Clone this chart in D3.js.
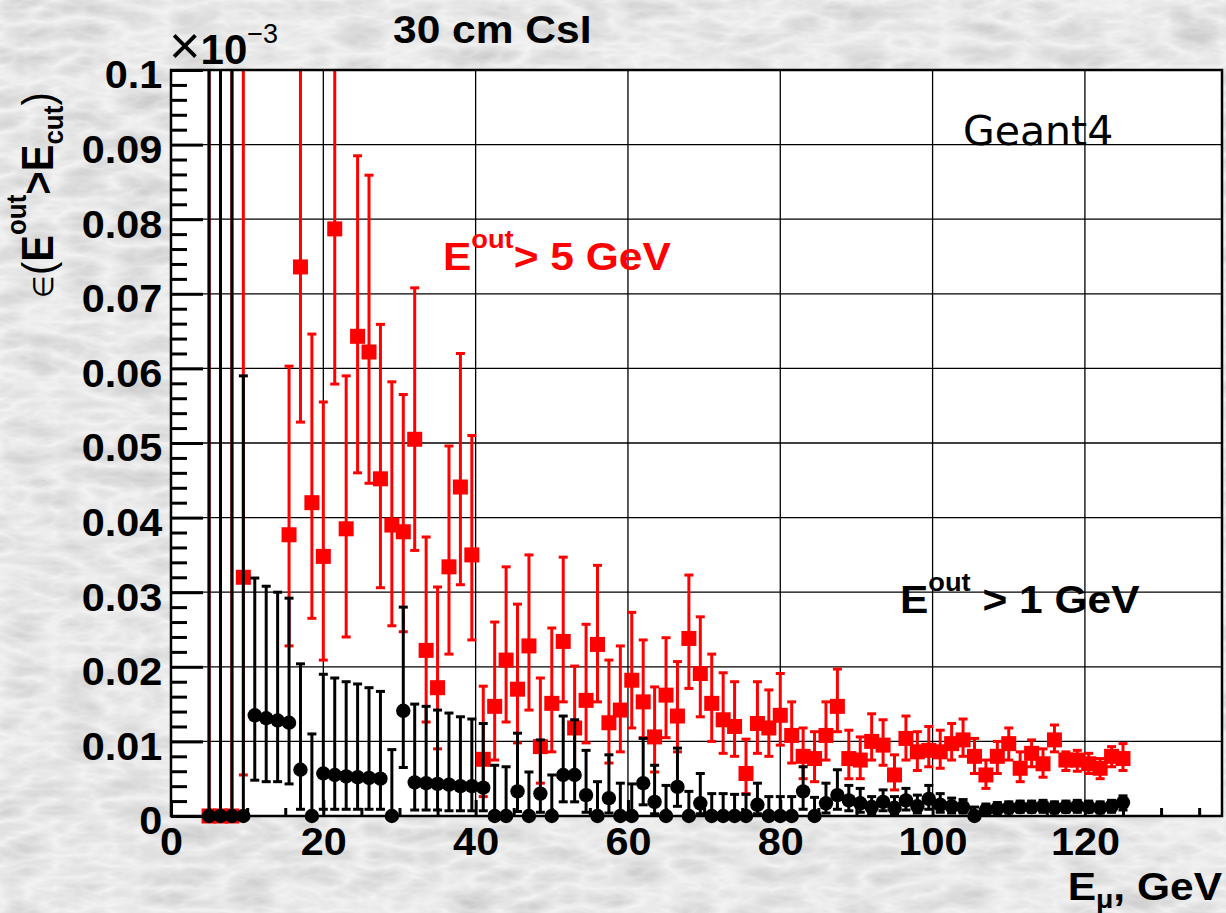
<!DOCTYPE html>
<html>
<head>
<meta charset="utf-8">
<script src="https://cdn.jsdelivr.net/npm/d3@7"></script>
<style>
  body { margin: 0; overflow: hidden; background: #d8d8d8; }
  svg { display: block; }
</style>
</head>
<body>
<svg id="chart"></svg>
<script>
// bin centres, GeV
const energies = [5, 6.5, 8, 9.5, 11, 12.5, 14, 15.5, 17, 18.5, 20, 21.5, 23, 24.5, 26, 27.5, 29, 30.5,
  32, 33.5, 35, 36.5, 38, 39.5, 41, 42.5, 44, 45.5, 47, 48.5, 50, 51.5, 53, 54.5, 56, 57.5, 59, 60.5,
  62, 63.5, 65, 66.5, 68, 69.5, 71, 72.5, 74, 75.5, 77, 78.5, 80, 81.5, 83, 84.5, 86, 87.5, 89, 90.5,
  92, 93.5, 95, 96.5, 98, 99.5, 101, 102.5, 104, 105.5, 107, 108.5, 110, 111.5, 113, 114.5, 116, 117.5,
  119, 120.5, 122, 123.5, 125];

// E_out > 5 GeV (red), value and error band ends, units of 1e-3
const redVal = [0, 0, 0, 0.032, null, null, null, 0.0377, 0.0736, 0.042, 0.0348, 0.0787, 0.0385, 0.0643, 0.0622, 0.0452, 0.039, 0.0381,
  0.0505, 0.0222, 0.0172, 0.0334, 0.0441, 0.035, 0.0076, 0.0147, 0.0209, 0.017, 0.0228, 0.0093, 0.0151, 0.0234, 0.0118, 0.0155, 0.023, 0.0125, 0.0142, 0.0182,
  0.0153, 0.0106, 0.0162, 0.0134, 0.0238, 0.0191, 0.0151, 0.0129, 0.012, 0.0057, 0.0124, 0.0118, 0.0135, 0.0108, 0.008, 0.0077, 0.0108, 0.0147, 0.0077, 0.0075,
  0.01, 0.0095, 0.0055, 0.0104, 0.0086, 0.0088, 0.0086, 0.0097, 0.0102, 0.008, 0.0055, 0.008, 0.0097, 0.0064, 0.0084, 0.007, 0.0102, 0.0075,
  0.0075, 0.007, 0.0064, 0.008, 0.0077];
const redLo = [0, 0, 0, 0.0055, null, null, null, 0.0228, 0.0528, 0.0265, 0.0209, 0.0579, 0.024, 0.046, 0.0446, 0.0306, 0.0255, 0.0247,
  0.0356, 0.0126, 0.009, 0.0217, 0.031, 0.0236, 0.0026, 0.0075, 0.0126, 0.0098, 0.0142, 0.0044, 0.0086, 0.0153, 0.0055, 0.0098, 0.0153, 0.0071, 0.0086, 0.0118,
  0.0105, 0.0059, 0.0105, 0.0086, 0.0171, 0.0133, 0.01, 0.0084, 0.008, 0.003, 0.0084, 0.008, 0.0095, 0.0071, 0.005, 0.0046, 0.0075, 0.0113, 0.005, 0.005,
  0.0075, 0.0068, 0.0035, 0.0075, 0.0061, 0.0066, 0.0064, 0.0075, 0.008, 0.0057, 0.0037, 0.0057, 0.0075, 0.0046, 0.0066, 0.0052, 0.0086, 0.0061,
  0.006, 0.0057, 0.005, 0.0066, 0.0061];
const redHi = [0.12, 0.12, 0.12, 0.12, null, null, null, 0.0603, 0.105, 0.0646, 0.0555, 0.105, 0.059, 0.0885, 0.0859, 0.0659, 0.0582, 0.0565,
  0.0708, 0.0374, 0.0307, 0.0496, 0.062, 0.051, 0.0174, 0.026, 0.0334, 0.0284, 0.035, 0.0185, 0.0252, 0.0347, 0.0201, 0.0257, 0.0336, 0.0209, 0.0228, 0.0273,
  0.0236, 0.0173, 0.0239, 0.0207, 0.0323, 0.0267, 0.0217, 0.0192, 0.018, 0.0103, 0.018, 0.0169, 0.0191, 0.0153, 0.0118, 0.0113, 0.0153, 0.0197, 0.0115, 0.0106,
  0.0137, 0.0129, 0.0082, 0.0134, 0.0113, 0.012, 0.0115, 0.0124, 0.013, 0.0104, 0.0075, 0.01, 0.0118, 0.0086, 0.0102, 0.009, 0.0122, 0.0086,
  0.0088, 0.0084, 0.0077, 0.0093, 0.0097];

// E_out > 1 GeV (black)
const blackVal = [0, 0, 0, 0, 0.0135, 0.0131, 0.0128, 0.0125, 0.0062, 0, 0.0057, 0.0055, 0.0053, 0.0052, 0.0051, 0.005, 0, 0.0141,
  0.0045, 0.0044, 0.0043, 0.0042, 0.004, 0.004, 0.0038, 0, 0, 0.0033, 0, 0.003, 0, 0.0055, 0.0055, 0.0028, 0, 0.0024, 0, 0,
  0.0044, 0.0019, 0, 0.0039, 0, 0.0017, 0, 0, 0, 0, 0.0015, 0, 0, 0, 0.0033, 0, 0.0017, 0.0028, 0.0021, 0.0017,
  0.0012, 0.0019, 0.0011, 0.0021, 0.0013, 0.0023, 0.0015, 0.0013, 0.0012, 0, 0.0008, 0.001, 0.0011, 0.0012, 0.0012, 0.0013, 0.0011, 0.0012,
  0.0013, 0.0012, 0.0011, 0.0013, 0.0018];
const blackLo = [0, 0, 0, 0, 0.0048, 0.0046, 0.0046, 0.0043, 0.0009, 0, 0.0009, 0.0009, 0.0009, 0.0009, 0.0009, 0.0009, 0, 0.0065,
  0.0008, 0.0008, 0.0008, 0.0007, 0.0007, 0.0007, 0.0007, 0, 0, 0.0006, 0, 0.0005, 0, 0.0019, 0.0019, 0.0005, 0, 0.0004, 0, 0,
  0.0015, 0.0003, 0, 0.0013, 0, 0.0003, 0, 0, 0, 0, 0.0003, 0, 0, 0, 0.0009, 0, 0.0004, 0.0009, 0.0007, 0.0005,
  0.0003, 0.0007, 0.0003, 0.0008, 0.0004, 0.0009, 0.0005, 0.0004, 0.0004, 0, 0.0002, 0.0003, 0.0004, 0.0005, 0.0005, 0.0005, 0.0004, 0.0005,
  0.0005, 0.0005, 0.0004, 0.0005, 0.0008];
const blackHi = [0.12, 0.12, 0.12, 0.059, 0.0319, 0.0308, 0.03, 0.0292, 0.0204, 0.011, 0.019, 0.0185, 0.018, 0.0177, 0.0172, 0.0167, 0.0089, 0.028,
  0.015, 0.0147, 0.0142, 0.0138, 0.0133, 0.013, 0.0124, 0.0068, 0.0066, 0.0111, 0.0059, 0.0102, 0.0055, 0.0134, 0.0129, 0.0088, 0.0046, 0.0082, 0.0044, 0.0043,
  0.0104, 0.0068, 0.0041, 0.0091, 0.0033, 0.0057, 0.003, 0.003, 0.0029, 0.0029, 0.0044, 0.0026, 0.0026, 0.0026, 0.0066, 0.0025, 0.0044, 0.0062, 0.0041, 0.0037,
  0.0026, 0.0035, 0.0026, 0.0037, 0.0028, 0.0041, 0.003, 0.0024, 0.0022, 0.0012, 0.0016, 0.0018, 0.0019, 0.002, 0.002, 0.0021, 0.0019, 0.002,
  0.0021, 0.002, 0.0019, 0.0021, 0.0027];

const xTicks = [0, 20, 40, 60, 80, 100, 120];
const xMinorTicks = [5, 10, 15, 25, 30, 35, 45, 50, 55, 65, 70, 75, 85, 90, 95, 105, 110, 115, 125, 130, 135];
const yTicks = [0, 0.01, 0.02, 0.03, 0.04, 0.05, 0.06, 0.07, 0.08, 0.09, 0.1];
const yTickLabels = ["0", "0.01", "0.02", "0.03", "0.04", "0.05", "0.06", "0.07", "0.08", "0.09", "0.1"];
const yMinorTicks = d3.range(0, 50).map(i => i * 0.002).filter(v => Math.round(v * 1000) % 10 !== 0);

const width = 1226, height = 913;
const plotL = 171, plotR = 1222, plotT = 70, plotB = 816;
const stretch = 1.09;
const font = "'Liberation Sans', Arial, Helvetica, sans-serif";

const svg = d3.select('#chart').attr('width', width).attr('height', height);
const defs = svg.append('defs');

// light grey marble background
const marble = defs.append('filter').attr('id', 'marble')
  .attr('x', 0).attr('y', 0).attr('width', '100%').attr('height', '100%');
marble.append('feTurbulence').attr('type', 'turbulence')
  .attr('baseFrequency', '0.018 0.045').attr('numOctaves', 3).attr('seed', 11);
marble.append('feColorMatrix').attr('type', 'matrix')
  .attr('values', '-0.35 0 0 0 0.9  -0.35 0 0 0 0.9  -0.35 0 0 0 0.9  0 0 0 0 1');
svg.append('rect').attr('width', width).attr('height', height).attr('filter', 'url(#marble)');

defs.append('clipPath').attr('id', 'frame')
  .append('rect').attr('x', plotL).attr('y', plotT).attr('width', plotR - plotL).attr('height', plotB - plotT + 2);

const x = d3.scaleLinear().domain([0, 138]).range([plotL, plotR]);
const y = d3.scaleLinear().domain([0, 0.1]).range([plotB, plotT]);

svg.append('rect').attr('x', plotL).attr('y', plotT)
  .attr('width', plotR - plotL).attr('height', plotB - plotT).attr('fill', 'white');

// grid
const grid = svg.append('g').attr('stroke', '#000').attr('stroke-width', 1.3);
grid.selectAll('line.v').data(xTicks.filter(d => d > 0)).join('line').attr('class', 'v')
  .attr('x1', d => x(d)).attr('x2', d => x(d)).attr('y1', plotT).attr('y2', plotB);
grid.selectAll('line.h').data(yTicks.filter(d => d > 0 && d < 0.1)).join('line').attr('class', 'h')
  .attr('x1', plotL).attr('x2', plotR).attr('y1', d => y(d)).attr('y2', d => y(d));

// series
function drawSeries(val, lo, hi, color, shape) {
  const pts = energies.map((e, i) => ({ e, v: val[i], lo: lo[i], hi: hi[i] })).filter(d => d.v !== null);
  const g = svg.append('g');
  const bars = g.append('g').attr('clip-path', 'url(#frame)').attr('stroke', color).attr('stroke-width', 3);
  bars.selectAll('line.bar').data(pts).join('line').attr('class', 'bar')
    .attr('x1', d => x(d.e)).attr('x2', d => x(d.e))
    .attr('y1', d => y(d.lo)).attr('y2', d => y(d.hi));
  const caps = pts.flatMap(d => {
    const c = [];
    if (d.hi > d.v) c.push({ e: d.e, v: d.hi });
    if (d.lo < d.v) c.push({ e: d.e, v: d.lo });
    return c;
  });
  bars.selectAll('line.cap').data(caps).join('line').attr('class', 'cap')
    .attr('x1', d => x(d.e) - 4.5).attr('x2', d => x(d.e) + 4.5)
    .attr('y1', d => y(d.v)).attr('y2', d => y(d.v));
  if (shape === 'square') {
    g.selectAll('rect').data(pts).join('rect')
      .attr('x', d => x(d.e) - 7.5).attr('y', d => y(d.v) - 7.5)
      .attr('width', 15).attr('height', 15).attr('fill', color);
  } else {
    g.selectAll('circle').data(pts).join('circle')
      .attr('cx', d => x(d.e)).attr('cy', d => y(d.v)).attr('r', 7.2).attr('fill', color);
  }
}
drawSeries(redVal, redLo, redHi, '#ff0000', 'square');
drawSeries(blackVal, blackLo, blackHi, '#000000', 'circle');

// frame
svg.append('rect').attr('x', plotL).attr('y', plotT)
  .attr('width', plotR - plotL).attr('height', plotB - plotT)
  .attr('fill', 'none').attr('stroke', '#000').attr('stroke-width', 2.5);

// axes
const yAxis = svg.append('g').attr('transform', `translate(${plotL},0)`)
  .call(d3.axisLeft(y).tickValues(yTicks).tickSize(-32).tickPadding(8)
    .tickFormat((d, i) => yTickLabels[i]));
svg.append('g').attr('transform', `translate(${plotL},0)`)
  .call(d3.axisLeft(y).tickValues(yMinorTicks).tickSize(-16).tickFormat(''));
const xAxis = svg.append('g').attr('transform', `translate(0,${plotB})`)
  .call(d3.axisBottom(x).tickValues(xTicks).tickSize(-16).tickPadding(12));
svg.append('g').attr('transform', `translate(0,${plotB})`)
  .call(d3.axisBottom(x).tickValues(xMinorTicks).tickSize(-8).tickFormat(''));

svg.selectAll('.domain').remove();
svg.selectAll('.tick line').attr('stroke', '#000').attr('stroke-width', 3);
svg.selectAll('.tick text')
  .attr('font-family', font).attr('font-weight', 'bold').attr('font-size', 38).attr('fill', '#000')
  .attr('transform', `scale(${stretch},1)`);
yAxis.selectAll('.tick text').attr('dy', '0.47em');

// text helper, horizontally stretched like the original
function label(px, py, parts, opts = {}) {
  const t = svg.append('text')
    .attr('transform', `translate(${px},${py}) scale(${opts.sx || stretch},1)`)
    .attr('font-family', opts.family || font).attr('fill', opts.fill || '#000')
    .attr('text-anchor', opts.anchor || 'start');
  parts.forEach(p => {
    t.append('tspan').text(p.t)
      .attr('font-size', p.size || 39)
      .attr('font-weight', p.weight || 'bold')
      .attr('dy', p.dy || 0);
  });
  return t;
}

// title
label(393, 43, [{ t: '30 cm CsI' }]);
// exponent
label(169, 64, [{ t: '×', size: 54, weight: 'normal', family: 'DejaVu Sans' }, { t: '10', size: 42 }, { t: '−3', size: 27, weight: 'normal', dy: -21 }], { sx: 1.0 });

// legends
label(443, 270, [{ t: 'E' }, { t: 'out', size: 25, dy: -22 }, { t: '> 5 GeV', dy: 22 }], { fill: '#ff0000' });
label(900, 613, [{ t: 'E' }, { t: 'out', size: 25, dy: -22 }, { t: ' > 1 GeV', dy: 22 }]);
label(963, 145, [{ t: 'Geant4', size: 41, weight: 'normal' }],
  { family: "'Comic Sans MS', 'DejaVu Sans', sans-serif", sx: 1 });

// x title
label(1222, 900, [{ t: 'E' }, { t: 'μ', size: 26, dy: 8 }, { t: ', GeV', dy: -8 }], { anchor: 'end' });

// y title, rotated
const yt = svg.append('text')
  .attr('transform', `translate(53,298) rotate(-90) scale(1,${stretch})`)
  .attr('font-family', font).attr('fill', '#000');
[
  { t: '∈', size: 26, weight: 'normal' },
  { t: '(', size: 40, weight: 'normal' },
  { t: 'E', size: 40 },
  { t: 'out', size: 26, dy: -25 },
  { t: '>', size: 40, dy: 25 },
  { t: 'E', size: 40 },
  { t: 'cut', size: 26, dy: 9 },
  { t: ')', size: 40, weight: 'normal', dy: -9 }
].forEach(p => {
  yt.append('tspan').text(p.t).attr('font-size', p.size)
    .attr('font-weight', p.weight || 'bold').attr('dy', p.dy || 0);
});
</script>
</body>
</html>
